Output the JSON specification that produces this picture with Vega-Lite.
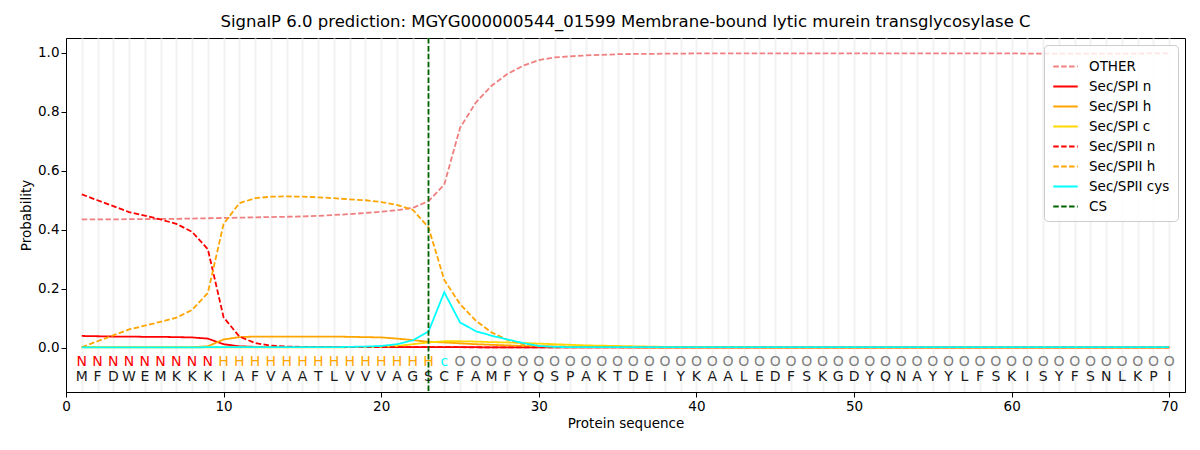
{
  "$schema": "https://vega.github.io/schema/vega-lite/v6.json",
  "description": "SignalP 6.0 prediction, MGYG000000544_01599",
  "autosize": "none",
  "width": 1119,
  "height": 354,
  "padding": {"left": 66, "top": 38, "right": 15, "bottom": 58},
  "title": {
    "text": "SignalP 6.0 prediction: MGYG000000544_01599 Membrane-bound lytic murein transglycosylase C",
    "font": "DejaVu Sans",
    "fontSize": 16.5,
    "fontWeight": "normal",
    "offset": 7
  },
  "config": {
    "view": {"stroke": "black", "strokeWidth": 1},
    "axis": {
      "labelFont": "DejaVu Sans",
      "titleFont": "DejaVu Sans",
      "labelFontSize": 13.5,
      "titleFontSize": 13.5,
      "titleFontWeight": "normal",
      "labelColor": "black",
      "titleColor": "black",
      "domainColor": "black",
      "tickColor": "black",
      "tickSize": 5
    }
  },
  "datasets": {
    "seq": [
      {"pos": 1, "aa": "M", "lab": "N", "other": 0.435, "spi_n": 0.040, "spi_h": 0.002, "spi_c": 0.001, "spii_n": 0.520, "spii_h": 0.002, "spii_cys": 0.001},
      {"pos": 2, "aa": "F", "lab": "N", "other": 0.435, "spi_n": 0.039, "spi_h": 0.002, "spi_c": 0.001, "spii_n": 0.500, "spii_h": 0.022, "spii_cys": 0.001},
      {"pos": 3, "aa": "D", "lab": "N", "other": 0.435, "spi_n": 0.038, "spi_h": 0.002, "spi_c": 0.001, "spii_n": 0.480, "spii_h": 0.042, "spii_cys": 0.001},
      {"pos": 4, "aa": "W", "lab": "N", "other": 0.436, "spi_n": 0.038, "spi_h": 0.002, "spi_c": 0.001, "spii_n": 0.460, "spii_h": 0.062, "spii_cys": 0.001},
      {"pos": 5, "aa": "E", "lab": "N", "other": 0.436, "spi_n": 0.037, "spi_h": 0.002, "spi_c": 0.001, "spii_n": 0.448, "spii_h": 0.075, "spii_cys": 0.001},
      {"pos": 6, "aa": "M", "lab": "N", "other": 0.437, "spi_n": 0.037, "spi_h": 0.002, "spi_c": 0.001, "spii_n": 0.435, "spii_h": 0.088, "spii_cys": 0.001},
      {"pos": 7, "aa": "K", "lab": "N", "other": 0.437, "spi_n": 0.036, "spi_h": 0.002, "spi_c": 0.001, "spii_n": 0.420, "spii_h": 0.102, "spii_cys": 0.001},
      {"pos": 8, "aa": "K", "lab": "N", "other": 0.438, "spi_n": 0.035, "spi_h": 0.002, "spi_c": 0.001, "spii_n": 0.393, "spii_h": 0.128, "spii_cys": 0.001},
      {"pos": 9, "aa": "K", "lab": "N", "other": 0.439, "spi_n": 0.031, "spi_h": 0.005, "spi_c": 0.001, "spii_n": 0.334, "spii_h": 0.186, "spii_cys": 0.002},
      {"pos": 10, "aa": "I", "lab": "H", "other": 0.440, "spi_n": 0.012, "spi_h": 0.028, "spi_c": 0.001, "spii_n": 0.103, "spii_h": 0.420, "spii_cys": 0.002},
      {"pos": 11, "aa": "A", "lab": "H", "other": 0.441, "spi_n": 0.005, "spi_h": 0.036, "spi_c": 0.001, "spii_n": 0.038, "spii_h": 0.490, "spii_cys": 0.002},
      {"pos": 12, "aa": "F", "lab": "H", "other": 0.442, "spi_n": 0.003, "spi_h": 0.038, "spi_c": 0.001, "spii_n": 0.016, "spii_h": 0.507, "spii_cys": 0.002},
      {"pos": 13, "aa": "V", "lab": "H", "other": 0.443, "spi_n": 0.002, "spi_h": 0.038, "spi_c": 0.001, "spii_n": 0.007, "spii_h": 0.512, "spii_cys": 0.002},
      {"pos": 14, "aa": "A", "lab": "H", "other": 0.444, "spi_n": 0.002, "spi_h": 0.038, "spi_c": 0.001, "spii_n": 0.004, "spii_h": 0.513, "spii_cys": 0.002},
      {"pos": 15, "aa": "A", "lab": "H", "other": 0.445, "spi_n": 0.002, "spi_h": 0.038, "spi_c": 0.001, "spii_n": 0.003, "spii_h": 0.512, "spii_cys": 0.002},
      {"pos": 16, "aa": "T", "lab": "H", "other": 0.447, "spi_n": 0.002, "spi_h": 0.038, "spi_c": 0.001, "spii_n": 0.002, "spii_h": 0.510, "spii_cys": 0.002},
      {"pos": 17, "aa": "L", "lab": "H", "other": 0.450, "spi_n": 0.002, "spi_h": 0.038, "spi_c": 0.001, "spii_n": 0.002, "spii_h": 0.507, "spii_cys": 0.002},
      {"pos": 18, "aa": "V", "lab": "H", "other": 0.453, "spi_n": 0.002, "spi_h": 0.037, "spi_c": 0.002, "spii_n": 0.002, "spii_h": 0.503, "spii_cys": 0.003},
      {"pos": 19, "aa": "V", "lab": "H", "other": 0.457, "spi_n": 0.002, "spi_h": 0.036, "spi_c": 0.002, "spii_n": 0.002, "spii_h": 0.500, "spii_cys": 0.004},
      {"pos": 20, "aa": "V", "lab": "H", "other": 0.461, "spi_n": 0.002, "spi_h": 0.035, "spi_c": 0.003, "spii_n": 0.002, "spii_h": 0.494, "spii_cys": 0.006},
      {"pos": 21, "aa": "A", "lab": "H", "other": 0.466, "spi_n": 0.002, "spi_h": 0.031, "spi_c": 0.006, "spii_n": 0.002, "spii_h": 0.484, "spii_cys": 0.012},
      {"pos": 22, "aa": "G", "lab": "H", "other": 0.474, "spi_n": 0.002, "spi_h": 0.026, "spi_c": 0.012, "spii_n": 0.002, "spii_h": 0.468, "spii_cys": 0.025},
      {"pos": 23, "aa": "S", "lab": "H", "other": 0.497, "spi_n": 0.002, "spi_h": 0.020, "spi_c": 0.018, "spii_n": 0.002, "spii_h": 0.408, "spii_cys": 0.055},
      {"pos": 24, "aa": "C", "lab": "c", "other": 0.553, "spi_n": 0.002, "spi_h": 0.018, "spi_c": 0.022, "spii_n": 0.002, "spii_h": 0.230, "spii_cys": 0.188},
      {"pos": 25, "aa": "F", "lab": "O", "other": 0.745, "spi_n": 0.002, "spi_h": 0.015, "spi_c": 0.022, "spii_n": 0.002, "spii_h": 0.148, "spii_cys": 0.086},
      {"pos": 26, "aa": "A", "lab": "O", "other": 0.831, "spi_n": 0.002, "spi_h": 0.012, "spi_c": 0.021, "spii_n": 0.001, "spii_h": 0.092, "spii_cys": 0.056},
      {"pos": 27, "aa": "M", "lab": "O", "other": 0.888, "spi_n": 0.001, "spi_h": 0.010, "spi_c": 0.019, "spii_n": 0.001, "spii_h": 0.052, "spii_cys": 0.041},
      {"pos": 28, "aa": "F", "lab": "O", "other": 0.928, "spi_n": 0.001, "spi_h": 0.008, "spi_c": 0.018, "spii_n": 0.001, "spii_h": 0.027, "spii_cys": 0.028},
      {"pos": 29, "aa": "Y", "lab": "O", "other": 0.956, "spi_n": 0.001, "spi_h": 0.006, "spi_c": 0.016, "spii_n": 0.001, "spii_h": 0.012, "spii_cys": 0.016},
      {"pos": 30, "aa": "Q", "lab": "O", "other": 0.975, "spi_n": 0.001, "spi_h": 0.005, "spi_c": 0.014, "spii_n": 0.001, "spii_h": 0.006, "spii_cys": 0.006},
      {"pos": 31, "aa": "S", "lab": "O", "other": 0.984, "spi_n": 0.001, "spi_h": 0.004, "spi_c": 0.012, "spii_n": 0.001, "spii_h": 0.004, "spii_cys": 0.003},
      {"pos": 32, "aa": "P", "lab": "O", "other": 0.988, "spi_n": 0.001, "spi_h": 0.003, "spi_c": 0.010, "spii_n": 0.001, "spii_h": 0.003, "spii_cys": 0.002},
      {"pos": 33, "aa": "A", "lab": "O", "other": 0.991, "spi_n": 0.001, "spi_h": 0.003, "spi_c": 0.008, "spii_n": 0.001, "spii_h": 0.002, "spii_cys": 0.002},
      {"pos": 34, "aa": "K", "lab": "O", "other": 0.993, "spi_n": 0.001, "spi_h": 0.002, "spi_c": 0.007, "spii_n": 0.001, "spii_h": 0.002, "spii_cys": 0.002},
      {"pos": 35, "aa": "T", "lab": "O", "other": 0.995, "spi_n": 0.001, "spi_h": 0.002, "spi_c": 0.006, "spii_n": 0.001, "spii_h": 0.002, "spii_cys": 0.002},
      {"pos": 36, "aa": "D", "lab": "O", "other": 0.996, "spi_n": 0.001, "spi_h": 0.002, "spi_c": 0.005, "spii_n": 0.001, "spii_h": 0.001, "spii_cys": 0.002},
      {"pos": 37, "aa": "E", "lab": "O", "other": 0.996, "spi_n": 0.001, "spi_h": 0.001, "spi_c": 0.004, "spii_n": 0.001, "spii_h": 0.001, "spii_cys": 0.002},
      {"pos": 38, "aa": "I", "lab": "O", "other": 0.997, "spi_n": 0.001, "spi_h": 0.001, "spi_c": 0.003, "spii_n": 0.001, "spii_h": 0.001, "spii_cys": 0.002},
      {"pos": 39, "aa": "Y", "lab": "O", "other": 0.997, "spi_n": 0.001, "spi_h": 0.001, "spi_c": 0.003, "spii_n": 0.001, "spii_h": 0.001, "spii_cys": 0.002},
      {"pos": 40, "aa": "K", "lab": "O", "other": 0.998, "spi_n": 0.001, "spi_h": 0.001, "spi_c": 0.002, "spii_n": 0.001, "spii_h": 0.001, "spii_cys": 0.002},
      {"pos": 41, "aa": "A", "lab": "O", "other": 0.998, "spi_n": 0.001, "spi_h": 0.001, "spi_c": 0.002, "spii_n": 0.001, "spii_h": 0.001, "spii_cys": 0.002},
      {"pos": 42, "aa": "A", "lab": "O", "other": 0.998, "spi_n": 0.001, "spi_h": 0.001, "spi_c": 0.002, "spii_n": 0.001, "spii_h": 0.001, "spii_cys": 0.002},
      {"pos": 43, "aa": "L", "lab": "O", "other": 0.998, "spi_n": 0.001, "spi_h": 0.001, "spi_c": 0.002, "spii_n": 0.001, "spii_h": 0.001, "spii_cys": 0.002},
      {"pos": 44, "aa": "E", "lab": "O", "other": 0.998, "spi_n": 0.001, "spi_h": 0.001, "spi_c": 0.002, "spii_n": 0.001, "spii_h": 0.001, "spii_cys": 0.002},
      {"pos": 45, "aa": "D", "lab": "O", "other": 0.998, "spi_n": 0.001, "spi_h": 0.001, "spi_c": 0.001, "spii_n": 0.001, "spii_h": 0.001, "spii_cys": 0.002},
      {"pos": 46, "aa": "F", "lab": "O", "other": 0.998, "spi_n": 0.001, "spi_h": 0.001, "spi_c": 0.001, "spii_n": 0.001, "spii_h": 0.001, "spii_cys": 0.002},
      {"pos": 47, "aa": "S", "lab": "O", "other": 0.998, "spi_n": 0.001, "spi_h": 0.001, "spi_c": 0.001, "spii_n": 0.001, "spii_h": 0.001, "spii_cys": 0.002},
      {"pos": 48, "aa": "K", "lab": "O", "other": 0.998, "spi_n": 0.001, "spi_h": 0.001, "spi_c": 0.001, "spii_n": 0.001, "spii_h": 0.001, "spii_cys": 0.002},
      {"pos": 49, "aa": "G", "lab": "O", "other": 0.998, "spi_n": 0.001, "spi_h": 0.001, "spi_c": 0.001, "spii_n": 0.001, "spii_h": 0.001, "spii_cys": 0.002},
      {"pos": 50, "aa": "D", "lab": "O", "other": 0.998, "spi_n": 0.001, "spi_h": 0.001, "spi_c": 0.001, "spii_n": 0.001, "spii_h": 0.001, "spii_cys": 0.002},
      {"pos": 51, "aa": "Y", "lab": "O", "other": 0.998, "spi_n": 0.001, "spi_h": 0.001, "spi_c": 0.001, "spii_n": 0.001, "spii_h": 0.001, "spii_cys": 0.002},
      {"pos": 52, "aa": "Q", "lab": "O", "other": 0.998, "spi_n": 0.001, "spi_h": 0.001, "spi_c": 0.001, "spii_n": 0.001, "spii_h": 0.001, "spii_cys": 0.002},
      {"pos": 53, "aa": "N", "lab": "O", "other": 0.998, "spi_n": 0.001, "spi_h": 0.001, "spi_c": 0.001, "spii_n": 0.001, "spii_h": 0.001, "spii_cys": 0.002},
      {"pos": 54, "aa": "A", "lab": "O", "other": 0.998, "spi_n": 0.001, "spi_h": 0.001, "spi_c": 0.001, "spii_n": 0.001, "spii_h": 0.001, "spii_cys": 0.002},
      {"pos": 55, "aa": "Y", "lab": "O", "other": 0.998, "spi_n": 0.001, "spi_h": 0.001, "spi_c": 0.001, "spii_n": 0.001, "spii_h": 0.001, "spii_cys": 0.002},
      {"pos": 56, "aa": "Y", "lab": "O", "other": 0.998, "spi_n": 0.001, "spi_h": 0.001, "spi_c": 0.001, "spii_n": 0.001, "spii_h": 0.001, "spii_cys": 0.002},
      {"pos": 57, "aa": "L", "lab": "O", "other": 0.998, "spi_n": 0.001, "spi_h": 0.001, "spi_c": 0.001, "spii_n": 0.001, "spii_h": 0.001, "spii_cys": 0.002},
      {"pos": 58, "aa": "F", "lab": "O", "other": 0.998, "spi_n": 0.001, "spi_h": 0.001, "spi_c": 0.001, "spii_n": 0.001, "spii_h": 0.001, "spii_cys": 0.002},
      {"pos": 59, "aa": "S", "lab": "O", "other": 0.998, "spi_n": 0.001, "spi_h": 0.001, "spi_c": 0.001, "spii_n": 0.001, "spii_h": 0.001, "spii_cys": 0.002},
      {"pos": 60, "aa": "K", "lab": "O", "other": 0.998, "spi_n": 0.001, "spi_h": 0.001, "spi_c": 0.001, "spii_n": 0.001, "spii_h": 0.001, "spii_cys": 0.002},
      {"pos": 61, "aa": "I", "lab": "O", "other": 0.997, "spi_n": 0.001, "spi_h": 0.001, "spi_c": 0.001, "spii_n": 0.001, "spii_h": 0.001, "spii_cys": 0.002},
      {"pos": 62, "aa": "S", "lab": "O", "other": 0.997, "spi_n": 0.001, "spi_h": 0.001, "spi_c": 0.001, "spii_n": 0.001, "spii_h": 0.001, "spii_cys": 0.002},
      {"pos": 63, "aa": "Y", "lab": "O", "other": 0.997, "spi_n": 0.001, "spi_h": 0.001, "spi_c": 0.001, "spii_n": 0.001, "spii_h": 0.001, "spii_cys": 0.002},
      {"pos": 64, "aa": "F", "lab": "O", "other": 0.997, "spi_n": 0.001, "spi_h": 0.001, "spi_c": 0.001, "spii_n": 0.001, "spii_h": 0.001, "spii_cys": 0.002},
      {"pos": 65, "aa": "S", "lab": "O", "other": 0.997, "spi_n": 0.001, "spi_h": 0.001, "spi_c": 0.001, "spii_n": 0.001, "spii_h": 0.001, "spii_cys": 0.002},
      {"pos": 66, "aa": "N", "lab": "O", "other": 0.997, "spi_n": 0.001, "spi_h": 0.001, "spi_c": 0.001, "spii_n": 0.001, "spii_h": 0.001, "spii_cys": 0.002},
      {"pos": 67, "aa": "L", "lab": "O", "other": 0.997, "spi_n": 0.001, "spi_h": 0.001, "spi_c": 0.001, "spii_n": 0.001, "spii_h": 0.001, "spii_cys": 0.002},
      {"pos": 68, "aa": "K", "lab": "O", "other": 0.997, "spi_n": 0.001, "spi_h": 0.001, "spi_c": 0.001, "spii_n": 0.001, "spii_h": 0.001, "spii_cys": 0.002},
      {"pos": 69, "aa": "P", "lab": "O", "other": 0.998, "spi_n": 0.001, "spi_h": 0.001, "spi_c": 0.001, "spii_n": 0.001, "spii_h": 0.001, "spii_cys": 0.002},
      {"pos": 70, "aa": "I", "lab": "O", "other": 0.998, "spi_n": 0.001, "spi_h": 0.001, "spi_c": 0.001, "spii_n": 0.001, "spii_h": 0.001, "spii_cys": 0.002}
    ],
    "cs": [
      {"pos": 23, "series": "cs"}
    ]
  },
  "encoding": {
    "x": {
      "field": "pos",
      "type": "quantitative",
      "scale": {"domain": [0, 71], "nice": false, "zero": false},
      "axis": {
        "title": "Protein sequence",
        "values": [0,1,2,3,4,5,6,7,8,9,10,11,12,13,14,15,16,17,18,19,20,21,22,23,24,25,26,27,28,29,30,31,32,33,34,35,36,37,38,39,40,41,42,43,44,45,46,47,48,49,50,51,52,53,54,55,56,57,58,59,60,61,62,63,64,65,66,67,68,69,70],
        "labelExpr": "datum.value % 10 === 0 ? datum.label : ''",
        "labelFlush": false,
        "labelOverlap": false,
        "tickOpacity": {"condition": {"test": "datum.value % 10 === 0", "value": 1}, "value": 0},
        "grid": true,
        "gridColor": {"condition": {"test": "datum.value === 0", "value": "transparent"}, "value": "#f2f2f2"},
        "gridWidth": 2
      }
    }
  },
  "layer": [
    {
      "data": {"name": "seq"},
      "transform": [
        {"fold": ["other", "spi_n", "spi_h", "spi_c", "spii_n", "spii_h", "spii_cys"], "as": ["series", "p"]}
      ],
      "mark": {"type": "line", "strokeWidth": 1.8},
      "encoding": {
        "y": {
          "field": "p",
          "type": "quantitative",
          "scale": {"domain": [-0.15, 1.05], "nice": false, "zero": false},
          "axis": {
            "title": "Probability",
            "values": [0, 0.2, 0.4, 0.6, 0.8, 1.0],
            "format": ".1f",
            "grid": false
          }
        },
        "color": {
          "field": "series",
          "type": "nominal",
          "scale": {
            "domain": ["other", "spi_n", "spi_h", "spi_c", "spii_n", "spii_h", "spii_cys", "cs"],
            "range": ["#f08080", "#ff0000", "#ffa500", "#ffd700", "#ff0000", "#ffa500", "#00ffff", "#006400"]
          },
          "legend": {
            "title": null,
            "orient": "top-right",
            "offset": 7,
            "padding": 8,
            "strokeColor": "#cccccc",
            "fillColor": "rgba(255,255,255,0.8)",
            "cornerRadius": 4,
            "symbolType": "stroke",
            "symbolSize": 600,
            "symbolStrokeWidth": 2,
            "labelFont": "DejaVu Sans",
            "labelFontSize": 13.5,
            "labelColor": "black",
            "labelOffset": 10,
            "rowPadding": 0,
            "labelExpr": "datum.label === 'other' ? 'OTHER' : datum.label === 'spi_n' ? 'Sec/SPI n' : datum.label === 'spi_h' ? 'Sec/SPI h' : datum.label === 'spi_c' ? 'Sec/SPI c' : datum.label === 'spii_n' ? 'Sec/SPII n' : datum.label === 'spii_h' ? 'Sec/SPII h' : datum.label === 'spii_cys' ? 'Sec/SPII cys' : 'CS'"
          }
        },
        "strokeDash": {
          "field": "series",
          "type": "nominal",
          "scale": {
            "domain": ["other", "spi_n", "spi_h", "spi_c", "spii_n", "spii_h", "spii_cys", "cs"],
            "range": [[5.5, 2.4], [1, 0], [1, 0], [1, 0], [5.5, 2.4], [5.5, 2.4], [1, 0], [5.5, 2.4]]
          },
          "legend": {
            "title": null,
            "labelExpr": "datum.label === 'other' ? 'OTHER' : datum.label === 'spi_n' ? 'Sec/SPI n' : datum.label === 'spi_h' ? 'Sec/SPI h' : datum.label === 'spi_c' ? 'Sec/SPI c' : datum.label === 'spii_n' ? 'Sec/SPII n' : datum.label === 'spii_h' ? 'Sec/SPII h' : datum.label === 'spii_cys' ? 'Sec/SPII cys' : 'CS'"
          }
        }
      }
    },
    {
      "data": {"name": "cs"},
      "mark": {"type": "rule", "strokeWidth": 1.8},
      "encoding": {
        "color": {"field": "series", "type": "nominal"},
        "strokeDash": {"field": "series", "type": "nominal"}
      }
    },
    {
      "data": {"name": "seq"},
      "mark": {"type": "text", "font": "DejaVu Sans", "fontSize": 14, "baseline": "middle", "align": "center"},
      "encoding": {
        "y": {"datum": -0.047},
        "text": {"field": "lab"},
        "color": {
          "condition": [
            {"test": "datum.lab === 'N'", "value": "#ff0000"},
            {"test": "datum.lab === 'H'", "value": "#ffa500"},
            {"test": "datum.lab === 'c'", "value": "#00ffff"}
          ],
          "value": "#808080"
        }
      }
    },
    {
      "data": {"name": "seq"},
      "mark": {"type": "text", "font": "DejaVu Sans", "fontSize": 14, "baseline": "middle", "align": "center", "color": "#1a1a1a"},
      "encoding": {
        "y": {"datum": -0.1},
        "text": {"field": "aa"}
      }
    }
  ]
}
